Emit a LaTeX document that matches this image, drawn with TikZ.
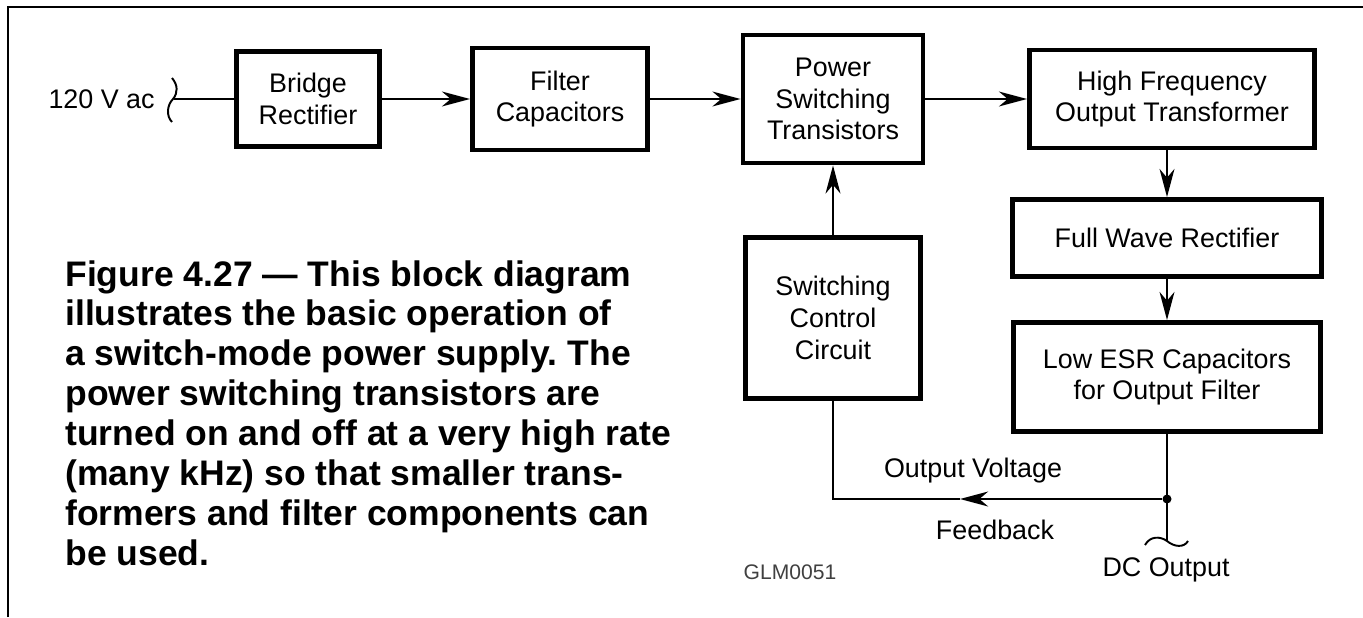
\documentclass[tikz,border=0pt]{standalone}
\usepackage{fontspec}
\setmainfont{Liberation Sans}
\usetikzlibrary{arrows.meta,positioning}
\frenchspacing

\begin{document}
\begin{tikzpicture}[x=0.2mm,y=-0.2mm]

					\tikzstyle{block} = [
						draw,
						line width=2.8pt,
						align=center,
						inner sep=0pt,
						font=\fontsize{15.3}{18}\selectfont
					]
					\tikzstyle{wire} = [line width=1.1pt]
					\tikzstyle{arr} = [wire, -{Stealth[length=16pt,width=8.5pt,inset=5pt]}]
					\tikzstyle{lbl} = [inner sep=0pt, font=\fontsize{15.3}{18}\selectfont]
					\tikzstyle{dot} = [circle, fill, inner sep=0pt, minimum size=1.8mm]

					\useasboundingbox (0,0) rectangle (1363,617);
					\draw [line width=1.1pt] (8,617) -- (8,7) -- (1363,7);

					\node (bridge) [block, minimum width=28.6mm, minimum height=19mm] at (308,99) {Bridge\\Rectifier};
					\node (filter) [block, minimum width=35mm, minimum height=20.4mm] at (560,99) {Filter\\Capacitors};
					\node (switch) [block, minimum width=36mm, minimum height=25.6mm] at (833,99) {Power\\Switching\\Transistors};
					\node (hfxfmr) [block, minimum width=57mm, minimum height=19.6mm] at (1172,99) {High Frequency\\Output Transformer};
					\node (fullwave) [block, minimum width=61.8mm, minimum height=15.4mm] at (1167,238) {Full Wave Rectifier};
					\node (esrcap) [block, minimum width=61.4mm, minimum height=21.8mm] at (1167,377) {Low ESR Capacitors\\for Output Filter};
					\node (control) [block, minimum width=35mm, minimum height=32.2mm] at (833,318) {Switching\\Control\\Circuit};

					\node (acin) [lbl, anchor=east] at (155,99) {120 V ac};
					\coordinate (acend) at (174,99);
					\node (tap) [dot] at (1167,499) {};
					\coordinate (dcend) at (1167,541);
					\coordinate (fbtip) at (960,499);

					\node (outvolt) [lbl] at (973,471) {Output Voltage};
					\node (feedback) [lbl] at (995,530) {Feedback};
					\node (dcout) [lbl] at (1166,570) {DC Output};
					\node (glm) [inner sep=0pt, text=black!75, font=\fontsize{12}{14}\selectfont] at (790,572) {GLM0051};

					\node (caption) [anchor=north west, inner sep=0pt, align=left, font=\fontsize{20.2}{22.7}\selectfont\bfseries] at (65,260) {Figure 4.27 --- This block diagram\\illustrates the basic operation of\\a switch-mode power supply. The\\power switching transistors are\\turned on and off at a very high rate\\(many kHz) so that smaller trans-\\formers and filter components can\\be used.};

					\draw [wire] (172,78) .. controls (178,85) and (178,93) .. (173,99) .. controls (167,105) and (166,116) .. (172,122);
					\draw [wire] (1145,545) .. controls (1150,536) and (1160,536) .. (1167,541) .. controls (1174,547) and (1184,548) .. (1188,541);

					\draw [wire] (acend) -- (bridge);
					\draw [arr] (bridge) -- (filter);
					\draw [arr] (filter) -- (switch);
					\draw [arr] (switch) -- (hfxfmr);
					\draw [arr] (hfxfmr.south -| fullwave) -- (fullwave);
					\draw [arr] (fullwave) -- (esrcap);
					\draw [arr] (control) -- (switch);
					\draw [wire] (esrcap) -- (dcend);
					\draw [arr] (tap) -- (fbtip);
					\draw [wire] (fbtip) -| (control);

				\end{tikzpicture}
\end{document}
